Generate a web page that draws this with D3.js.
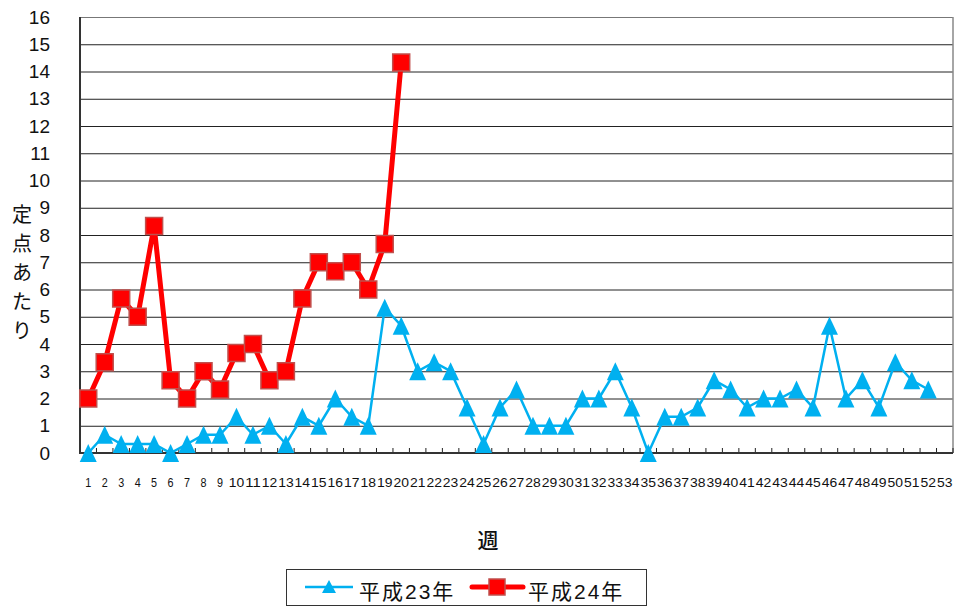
<!DOCTYPE html>
<html>
<head>
<meta charset="utf-8">
<script src="https://cdn.jsdelivr.net/npm/d3@7"></script>
<style>
  body { margin: 0; background: #fff; }
  text { font-family: "Liberation Sans", "Noto Sans CJK JP", sans-serif; fill: #111; }
</style>
</head>
<body>
<svg id="chart"></svg>
<script>
// Données : nombre par point fixe, par semaine
const weeks = d3.range(1, 54);
const yTicks = d3.range(0, 17);
const seriesNames = ["平成23年", "平成24年"];
const h23 = [0, 0.67, 0.33, 0.33, 0.33, 0, 0.33, 0.67, 0.67, 1.33,
             0.67, 1, 0.33, 1.33, 1, 2, 1.33, 1, 5.33, 4.67,
             3, 3.33, 3, 1.67, 0.33, 1.67, 2.33, 1, 1, 1,
             2, 2, 3, 1.67, 0, 1.33, 1.33, 1.67, 2.67, 2.33,
             1.67, 2, 2, 2.33, 1.67, 4.67, 2, 2.67, 1.67, 3.33,
             2.67, 2.33];
const h24 = [2, 3.33, 5.67, 5, 8.33, 2.67, 2, 3, 2.33, 3.67,
             4, 2.67, 3, 5.67, 7, 6.67, 7, 6, 7.67, 14.33];

const width = 961;
const height = 608;
const plotLeft = 80, plotRight = 953, plotTop = 17, plotBottom = 453;

const blue = "#00b0f0";
const red = "#ff0000";
const redEdge = "#c0504d";

const svg = d3.select("#chart")
    .attr("width", width)
    .attr("height", height);

const x = d3.scaleBand().domain(weeks).range([plotLeft, plotRight]);
const y = d3.scaleLinear().domain([0, 16]).range([plotBottom, plotTop]);
const cx = d => x(d) + x.bandwidth() / 2;

// Lignes de grille
svg.append("g")
    .selectAll("line")
    .data(yTicks.slice(1))
    .enter()
    .append("line")
    .attr("x1", plotLeft).attr("x2", plotRight)
    .attr("y1", d => y(d) + 0.5).attr("y2", d => y(d) + 0.5)
    .attr("stroke", d => d === 16 ? "#777" : "#222")
    .attr("stroke-width", 1);

// Bordure droite
svg.append("line")
    .attr("x1", plotRight).attr("x2", plotRight)
    .attr("y1", plotTop).attr("y2", plotBottom)
    .attr("stroke", "#888").attr("stroke-width", 1.5);

// Graduations de l'axe X (vers l'intérieur)
svg.append("g")
    .selectAll("line")
    .data(d3.range(0, 54))
    .enter()
    .append("line")
    .attr("x1", k => plotLeft + k * x.step()).attr("x2", k => plotLeft + k * x.step())
    .attr("y1", plotBottom - 5).attr("y2", plotBottom)
    .attr("stroke", "#222").attr("stroke-width", 1);

// Axes
svg.append("line")
    .attr("x1", plotLeft).attr("x2", plotLeft)
    .attr("y1", plotTop).attr("y2", plotBottom + 1)
    .attr("stroke", "#333").attr("stroke-width", 2);
svg.append("line")
    .attr("x1", plotLeft).attr("x2", plotRight)
    .attr("y1", plotBottom).attr("y2", plotBottom)
    .attr("stroke", "#333").attr("stroke-width", 2);

// Étiquettes Y
svg.append("g")
    .selectAll("text")
    .data(yTicks)
    .enter()
    .append("text")
    .attr("x", 50)
    .attr("y", d => y(d))
    .attr("dy", "0.35em")
    .attr("text-anchor", "end")
    .attr("font-size", 19)
    .text(d => d);

// Étiquettes X
svg.append("g")
    .selectAll("text")
    .data(weeks)
    .enter()
    .append("text")
    .attr("x", cx)
    .attr("y", 482)
    .attr("dy", "0.35em")
    .attr("text-anchor", "middle")
    .attr("font-size", 13)
    .attr("textLength", d => d < 10 ? 6 : 15.5)
    .attr("lengthAdjust", "spacingAndGlyphs")
    .text(d => d);

// Titres des axes
svg.append("text")
    .attr("x", 488).attr("y", 540)
    .attr("dominant-baseline", "central")
    .attr("text-anchor", "middle")
    .attr("font-size", 21)
    .attr("font-weight", 500)
    .attr("font-family", "Noto Sans CJK JP")
    .text("週");

svg.append("g")
    .selectAll("text")
    .data(Array.from("定点あたり"))
    .enter()
    .append("text")
    .attr("x", 22)
    .attr("y", (d, i) => 215 + i * 29)
    .attr("dominant-baseline", "central")
    .attr("text-anchor", "middle")
    .attr("font-size", 20)
    .attr("font-family", "Noto Sans CJK JP")
    .text(d => d);

const tri = "M0,-9L8.5,9L-8.5,9Z";
const line = d3.line().x((d, i) => cx(weeks[i])).y(d => y(d));

// Série 平成23年
svg.append("path")
    .datum(h23)
    .attr("d", line)
    .attr("fill", "none")
    .attr("stroke", blue)
    .attr("stroke-width", 2.5);
svg.append("g")
    .selectAll("path")
    .data(h23)
    .enter()
    .append("path")
    .attr("d", tri)
    .attr("transform", (d, i) => `translate(${cx(weeks[i])},${y(d)})`)
    .attr("fill", blue);

// Série 平成24年
svg.append("path")
    .datum(h24)
    .attr("d", line)
    .attr("fill", "none")
    .attr("stroke", red)
    .attr("stroke-width", 5)
    .attr("stroke-linejoin", "round");
svg.append("g")
    .selectAll("rect")
    .data(h24)
    .enter()
    .append("rect")
    .attr("x", (d, i) => cx(weeks[i]) - 8.5)
    .attr("y", d => y(d) - 8.5)
    .attr("width", 17).attr("height", 17)
    .attr("fill", red)
    .attr("stroke", redEdge)
    .attr("stroke-width", 1.5);

// Légende
const legend = svg.append("g");
legend.append("rect")
    .attr("x", 286.5).attr("y", 569.5)
    .attr("width", 360).attr("height", 36)
    .attr("fill", "#fff").attr("stroke", "#333").attr("stroke-width", 1);
legend.append("line")
    .attr("x1", 305).attr("x2", 353).attr("y1", 587).attr("y2", 587)
    .attr("stroke", blue).attr("stroke-width", 2.5);
legend.append("path")
    .attr("d", "M0,-7L7,6L-7,6Z")
    .attr("transform", "translate(329,587)")
    .attr("fill", blue);
legend.append("line")
    .attr("x1", 472).attr("x2", 523).attr("y1", 587).attr("y2", 587)
    .attr("stroke", red).attr("stroke-width", 5).attr("stroke-linecap", "round");
legend.append("rect")
    .attr("x", 489).attr("y", 579).attr("width", 16).attr("height", 16)
    .attr("fill", red).attr("stroke", redEdge).attr("stroke-width", 1.5);
legend.selectAll("text.lbl")
    .data(seriesNames)
    .enter()
    .append("text")
    .attr("x", (d, i) => i === 0 ? 359 : 528)
    .attr("y", 591)
    .attr("dominant-baseline", "central")
    .attr("font-size", 21)
    .attr("letter-spacing", 2)
    .attr("font-family", "Noto Sans CJK JP")
    .text(d => d);
</script>
</body>
</html>
